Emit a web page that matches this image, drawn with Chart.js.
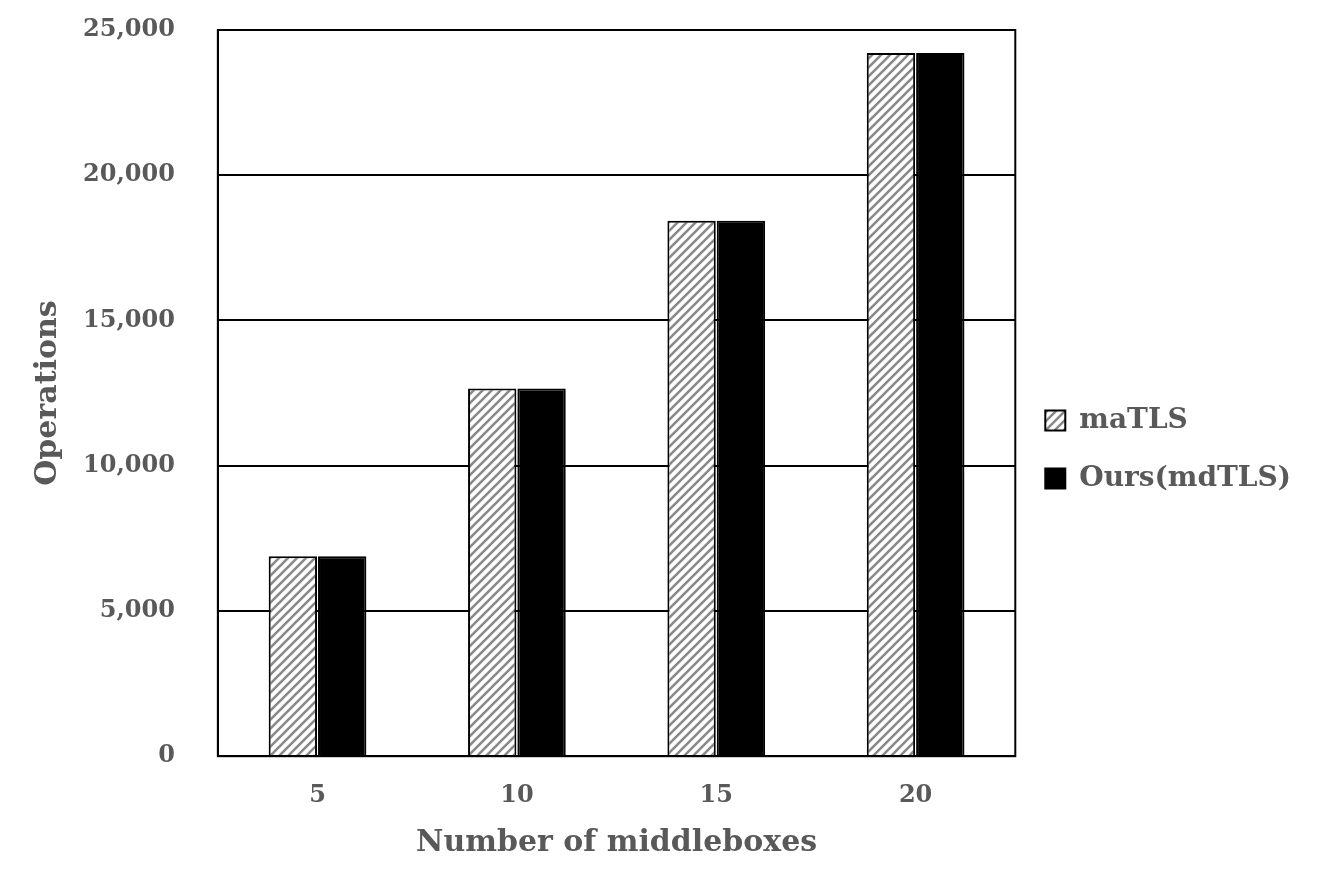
<!DOCTYPE html>
<html>
<head>
<meta charset="utf-8">
<script src="https://cdn.jsdelivr.net/npm/chart.js@4"></script>
<style>
  html, body { margin: 0; padding: 0; background: #fff; }
  #wrap { width: 1334px; height: 889px; }
</style>
</head>
<body>
<div id="wrap"><canvas id="myChart"></canvas></div>
<script>
// data
var categories = ['5', '10', '15', '20'];
var matls_ops = [6880, 12660, 18430, 24210];
var mdtls_ops = [6880, 12660, 18430, 24210];
var series_names = ['maTLS', 'Ours(mdTLS)'];

var FONT = '"DejaVu Serif", "Liberation Serif", serif';
var TXT = '#595959';

// diagonal hatch for the maTLS bars
function makeHatch() {
    var c = document.createElement('canvas');
    c.width = 9; c.height = 9;
    var g = c.getContext('2d');
    g.fillStyle = '#fff';
    g.fillRect(0, 0, 9, 9);
    g.strokeStyle = '#8a8a8a';
    g.lineWidth = 2.6;
    g.beginPath();
    g.moveTo(-2, 11); g.lineTo(11, -2);
    g.moveTo(-11, 11); g.lineTo(2, -2);
    g.moveTo(7, 11); g.lineTo(20, -2);
    g.stroke();
    return g.createPattern(c, 'repeat');
}

var ctx = document.getElementById('myChart').getContext('2d');
var hatch = makeHatch();

// box around the plot area
var frame = {
    id: 'frame',
    afterDatasetsDraw: function(chart) {
        var a = chart.chartArea, g = chart.ctx;
        g.save();
        g.strokeStyle = '#000';
        g.lineWidth = 2;
        g.strokeRect(a.left, a.top, a.right - a.left, a.bottom - a.top);
        g.restore();
    }
};

var myChart = new Chart(ctx, {
    type: 'bar',
    data: {
        labels: categories,
        datasets: [{
            label: series_names[0],
            data: matls_ops,
            backgroundColor: hatch,
            borderColor: '#000',
            borderWidth: 2,
            categoryPercentage: 0.495,
            barPercentage: 0.98
        }, {
            label: series_names[1],
            data: mdtls_ops,
            backgroundColor: '#000',
            borderColor: '#000',
            borderWidth: 2,
            categoryPercentage: 0.495,
            barPercentage: 0.98
        }]
    },
    options: {
        responsive: true,
        maintainAspectRatio: false,
        animation: false,
        layout: { padding: { top: 30, right: 33, bottom: 20, left: 0 } },
        plugins: {
            legend: {
                position: 'right',
                labels: {
                    boxWidth: 20,
                    boxHeight: 20,
                    padding: 30,
                    color: TXT,
                    font: { family: FONT, size: 28, weight: 'bold' }
                }
            },
            tooltip: { enabled: false }
        },
        scales: {
            x: {
                grid: { display: false, drawTicks: false },
                border: { color: '#000', width: 2 },
                ticks: {
                    color: TXT,
                    padding: 25,
                    font: { family: FONT, size: 24, weight: 'bold' }
                },
                title: {
                    display: true,
                    text: 'Number of middleboxes',
                    color: TXT,
                    padding: { top: -10, bottom: 8 },
                    font: { family: FONT, size: 30, weight: 'bold' }
                }
            },
            y: {
                min: 0,
                max: 25000,
                grid: { color: '#000', lineWidth: 2, drawTicks: false },
                border: { color: '#000', width: 2 },
                ticks: {
                    stepSize: 5000,
                    color: TXT,
                    padding: 43,
                    font: { family: FONT, size: 24, weight: 'bold' }
                },
                title: {
                    display: true,
                    text: 'Operations',
                    color: TXT,
                    padding: { top: 30, bottom: -26 },
                    font: { family: FONT, size: 30, weight: 'bold' }
                },
                // the tick padding should not push the plot down from the top
                afterFit: function(scale) {
                    scale.paddingTop = 0;
                    scale.paddingBottom = 0;
                }
            }
        }
    },
    plugins: [frame]
});
</script>
</body>
</html>
